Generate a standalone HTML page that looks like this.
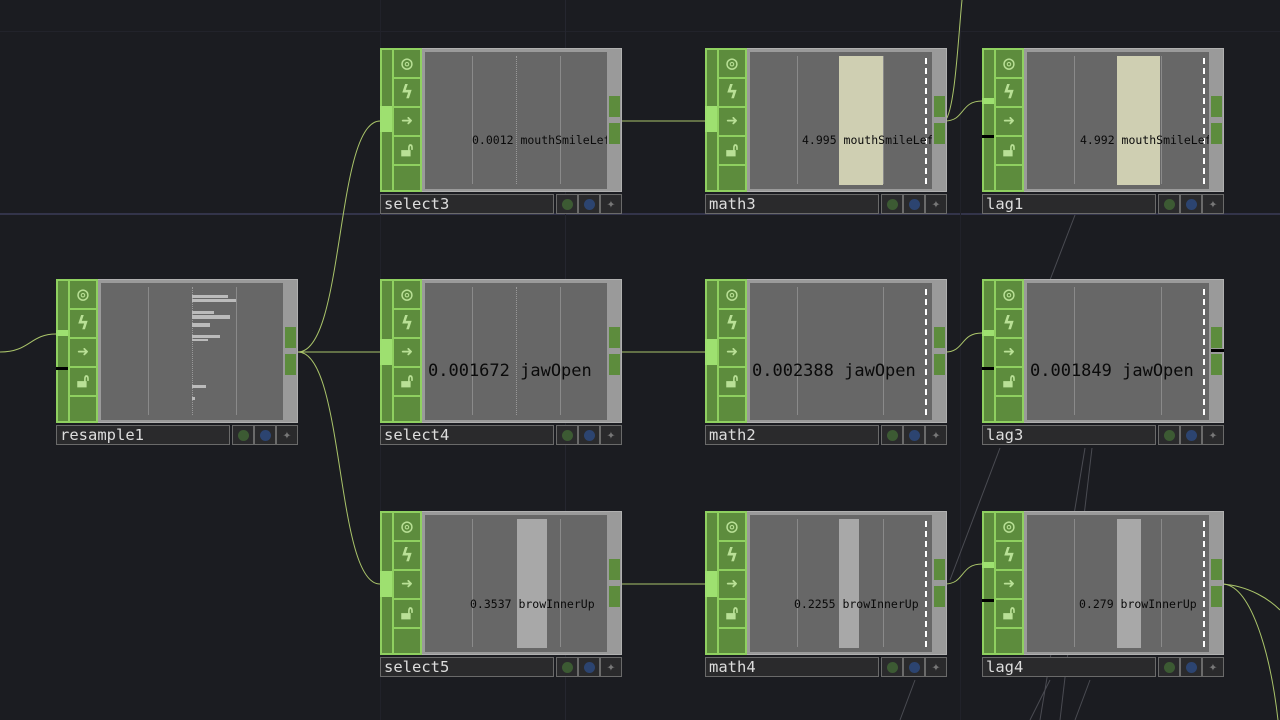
<!DOCTYPE html><html><head><meta charset="utf-8"><style>
*{margin:0;padding:0;box-sizing:border-box}
body{width:1280px;height:720px;background:#1b1c21;position:relative;overflow:hidden;font-family:"DejaVu Sans Mono","Liberation Mono",monospace}
.g{position:absolute;background:#2a2b36}
.n{position:absolute;width:242px;height:166px}
.b{position:absolute;left:0;top:0;width:242px;height:144px;background:#9a9a9a;border:1px solid #b0b0b0}
.s{position:absolute;left:0;top:0;width:42px;height:144px;background:#5d8c3d;border:2px solid #8fd060}
.s:before{content:"";position:absolute;left:10px;top:0;width:2px;height:140px;background:#8fd060}
.c{position:absolute;left:12px;width:26px;height:29px;border-bottom:2px solid #8fd060;color:#b9e096;font-size:19px;font-weight:bold;text-align:center;line-height:27px}
.in{position:absolute;left:0;width:12px;background:#9ee070}
.bk{position:absolute;left:0;width:12px;height:3px;background:#000}
.v{position:absolute;left:45px;top:4px;width:182px;height:137px;background:#676767;overflow:hidden}
.l{position:absolute;top:4px;width:1px;height:128px;background:#8a8a8a}
.d{position:absolute;top:4px;width:0;height:128px;border-left:1px dotted #999}
.w{position:absolute;top:6px;width:0;height:126px;border-left:2px dashed #fff}
.bar{position:absolute;top:4px;height:129px}
.o{position:absolute;left:229px;width:11px;height:21px;background:#5d8c3d}
.t{position:absolute;white-space:nowrap;color:#0a0a0a;font-size:11.5px}
.T{position:absolute;white-space:nowrap;color:#0a0a0a;font-size:17px}
.lb{position:absolute;left:0;top:146px;width:174px;height:20px;background:#2a2a2c;border:1px solid #6a6a6a;color:#ddd;font-size:15.5px;line-height:18px;padding-left:3px}
.ic{position:absolute;top:146px;width:22px;height:20px;background:#2a2a2c;border:1px solid #6a6a6a}
.ic i{position:absolute;left:5px;top:4px;width:11px;height:11px;border-radius:50%}
</style></head><body>
<div class="g" style="left:0;top:213px;width:1280px;height:2px;background:#33344a"></div>
<div class="g" style="left:0;top:31px;width:1280px;height:1px;background:#22232b"></div>
<div class="g" style="left:565px;top:0;width:1px;height:720px;background:#25262f"></div>
<div class="g" style="left:380px;top:0;width:1px;height:720px;background:#21222a"></div>
<div class="g" style="left:960px;top:0;width:1px;height:720px;background:#21222a"></div>
<svg style="position:absolute;left:0;top:0" width="1280" height="720" fill="none">
<g stroke="#aac46a" stroke-width="1">
<path d="M0,352 C30,352 30,334 56,334"/>
<path d="M298,352 C345,352 335,121 380,121"/>
<path d="M298,352 L380,352"/>
<path d="M298,352 C345,352 335,584 380,584"/>
<path d="M621,121 L705,121"/><path d="M621,352 L705,352"/><path d="M621,584 L705,584"/>
<path d="M945,121 C965,121 960,101 982,101"/>
<path d="M945,352 C965,352 960,333 982,333"/>
<path d="M945,584 C965,584 960,564 982,564"/>
<path d="M945,121 C955,110 958,40 962,0"/>
<path d="M1222,584 C1250,584 1270,650 1278,720"/>
<path d="M1222,584 C1250,586 1270,600 1280,610"/>
</g>
<g stroke="#4a4b52" stroke-width="1">
<path d="M1075,215 L1050,280"/><path d="M1085,448 L1040,720"/><path d="M1092,448 L1060,720"/>
<path d="M1000,448 L950,580"/><path d="M915,680 L900,720"/><path d="M1050,680 L1030,720"/><path d="M1090,680 L1075,720"/>
</g></svg>

<!-- resample1 -->
<div class="n" style="left:56px;top:279px"><div class="b"></div><div class="s"><div class="c" style="top:0">◎</div><div class="c" style="top:29px">ϟ</div><div class="c" style="top:58px">➜</div><div class="c" style="top:87px">🔓︎</div></div>
<div class="in" style="top:51px;height:6px"></div><div class="bk" style="top:88px"></div>
<div class="v" style="left:45px"><div class="l" style="left:47px"></div><div class="d" style="left:91px"></div><div class="l" style="left:135px"></div>
<div class="bar" style="left:91px;top:12px;width:36px;height:3px;background:#bbb"></div><div class="bar" style="left:91px;top:16px;width:44px;height:3px;background:#bbb"></div>
<div class="bar" style="left:91px;top:28px;width:22px;height:3px;background:#bbb"></div><div class="bar" style="left:91px;top:32px;width:38px;height:4px;background:#bbb"></div>
<div class="bar" style="left:91px;top:40px;width:18px;height:4px;background:#bbb"></div><div class="bar" style="left:91px;top:52px;width:28px;height:3px;background:#bbb"></div><div class="bar" style="left:91px;top:56px;width:16px;height:2px;background:#bbb"></div>
<div class="bar" style="left:91px;top:102px;width:14px;height:3px;background:#bbb"></div><div class="bar" style="left:91px;top:114px;width:3px;height:3px;background:#bbb"></div></div>
<div class="o" style="top:48px"></div><div class="o" style="top:75px"></div>
<div class="lb">resample1</div><div class="ic" style="left:176px"><i style="background:#3c5a33"></i></div><div class="ic" style="left:198px"><i style="background:#2c4470"></i></div><div class="ic" style="left:220px;color:#777;font-size:14px;text-align:center;line-height:18px">✦</div></div>

<!-- row 1 -->
<div class="n" style="left:380px;top:48px"><div class="b"></div><div class="s"><div class="c" style="top:0">◎</div><div class="c" style="top:29px">ϟ</div><div class="c" style="top:58px">➜</div><div class="c" style="top:87px">🔓︎</div></div>
<div class="in" style="top:58px;height:26px"></div>
<div class="v"><div class="l" style="left:47px"></div><div class="d" style="left:91px"></div><div class="l" style="left:135px"></div><div class="t" style="left:47px;top:81px">0.0012 mouthSmileLeft</div></div>
<div class="o" style="top:48px"></div><div class="o" style="top:75px"></div>
<div class="lb">select3</div><div class="ic" style="left:176px"><i style="background:#3c5a33"></i></div><div class="ic" style="left:198px"><i style="background:#2c4470"></i></div><div class="ic" style="left:220px;color:#777;font-size:14px;text-align:center;line-height:18px">✦</div></div>

<div class="n" style="left:705px;top:48px"><div class="b"></div><div class="s"><div class="c" style="top:0">◎</div><div class="c" style="top:29px">ϟ</div><div class="c" style="top:58px">➜</div><div class="c" style="top:87px">🔓︎</div></div>
<div class="in" style="top:58px;height:26px"></div>
<div class="v"><div class="l" style="left:47px"></div><div class="bar" style="left:89px;width:44px;background:#cfcfb2"></div><div class="l" style="left:133px"></div><div class="w" style="left:175px"></div><div class="t" style="left:52px;top:81px">4.995 mouthSmileLeft</div></div>
<div class="o" style="top:48px"></div><div class="o" style="top:75px"></div>
<div class="lb">math3</div><div class="ic" style="left:176px"><i style="background:#3c5a33"></i></div><div class="ic" style="left:198px"><i style="background:#2c4470"></i></div><div class="ic" style="left:220px;color:#777;font-size:14px;text-align:center;line-height:18px">✦</div></div>

<div class="n" style="left:982px;top:48px"><div class="b"></div><div class="s"><div class="c" style="top:0">◎</div><div class="c" style="top:29px">ϟ</div><div class="c" style="top:58px">➜</div><div class="c" style="top:87px">🔓︎</div></div>
<div class="in" style="top:50px;height:6px"></div><div class="bk" style="top:87px"></div>
<div class="v"><div class="l" style="left:47px"></div><div class="bar" style="left:90px;width:43px;background:#cfcfb2"></div><div class="l" style="left:134px"></div><div class="w" style="left:176px"></div><div class="t" style="left:53px;top:81px">4.992 mouthSmileLeft</div></div>
<div class="o" style="top:48px"></div><div class="o" style="top:75px"></div>
<div class="lb">lag1</div><div class="ic" style="left:176px"><i style="background:#3c5a33"></i></div><div class="ic" style="left:198px"><i style="background:#2c4470"></i></div><div class="ic" style="left:220px;color:#777;font-size:14px;text-align:center;line-height:18px">✦</div></div>

<!-- row 2 -->
<div class="n" style="left:380px;top:279px"><div class="b"></div><div class="s"><div class="c" style="top:0">◎</div><div class="c" style="top:29px">ϟ</div><div class="c" style="top:58px">➜</div><div class="c" style="top:87px">🔓︎</div></div>
<div class="in" style="top:60px;height:26px"></div>
<div class="v"><div class="l" style="left:47px"></div><div class="d" style="left:91px"></div><div class="l" style="left:135px"></div><div class="T" style="left:3px;top:78px">0.001672 jawOpen</div></div>
<div class="o" style="top:48px"></div><div class="o" style="top:75px"></div>
<div class="lb">select4</div><div class="ic" style="left:176px"><i style="background:#3c5a33"></i></div><div class="ic" style="left:198px"><i style="background:#2c4470"></i></div><div class="ic" style="left:220px;color:#777;font-size:14px;text-align:center;line-height:18px">✦</div></div>

<div class="n" style="left:705px;top:279px"><div class="b"></div><div class="s"><div class="c" style="top:0">◎</div><div class="c" style="top:29px">ϟ</div><div class="c" style="top:58px">➜</div><div class="c" style="top:87px">🔓︎</div></div>
<div class="in" style="top:60px;height:26px"></div>
<div class="v"><div class="l" style="left:47px"></div><div class="l" style="left:133px"></div><div class="w" style="left:175px"></div><div class="T" style="left:2px;top:78px">0.002388 jawOpen</div></div>
<div class="o" style="top:48px"></div><div class="o" style="top:75px"></div>
<div class="lb">math2</div><div class="ic" style="left:176px"><i style="background:#3c5a33"></i></div><div class="ic" style="left:198px"><i style="background:#2c4470"></i></div><div class="ic" style="left:220px;color:#777;font-size:14px;text-align:center;line-height:18px">✦</div></div>

<div class="n" style="left:982px;top:279px"><div class="b"></div><div class="s"><div class="c" style="top:0">◎</div><div class="c" style="top:29px">ϟ</div><div class="c" style="top:58px">➜</div><div class="c" style="top:87px">🔓︎</div></div>
<div class="in" style="top:51px;height:6px"></div><div class="bk" style="top:88px"></div>
<div class="v"><div class="l" style="left:47px"></div><div class="l" style="left:134px"></div><div class="w" style="left:176px"></div><div class="T" style="left:3px;top:78px">0.001849 jawOpen</div></div>
<div class="o" style="top:48px"></div><div class="o" style="top:75px"></div><div style="position:absolute;left:229px;top:70px;width:13px;height:3px;background:#000"></div>
<div class="lb">lag3</div><div class="ic" style="left:176px"><i style="background:#3c5a33"></i></div><div class="ic" style="left:198px"><i style="background:#2c4470"></i></div><div class="ic" style="left:220px;color:#777;font-size:14px;text-align:center;line-height:18px">✦</div></div>

<!-- row 3 -->
<div class="n" style="left:380px;top:511px"><div class="b"></div><div class="s"><div class="c" style="top:0">◎</div><div class="c" style="top:29px">ϟ</div><div class="c" style="top:58px">➜</div><div class="c" style="top:87px">🔓︎</div></div>
<div class="in" style="top:60px;height:26px"></div>
<div class="v"><div class="l" style="left:47px"></div><div class="bar" style="left:92px;width:30px;background:#a8a8a8"></div><div class="l" style="left:135px"></div><div class="t" style="left:45px;top:82px">0.3537 browInnerUp</div></div>
<div class="o" style="top:48px"></div><div class="o" style="top:75px"></div>
<div class="lb">select5</div><div class="ic" style="left:176px"><i style="background:#3c5a33"></i></div><div class="ic" style="left:198px"><i style="background:#2c4470"></i></div><div class="ic" style="left:220px;color:#777;font-size:14px;text-align:center;line-height:18px">✦</div></div>

<div class="n" style="left:705px;top:511px"><div class="b"></div><div class="s"><div class="c" style="top:0">◎</div><div class="c" style="top:29px">ϟ</div><div class="c" style="top:58px">➜</div><div class="c" style="top:87px">🔓︎</div></div>
<div class="in" style="top:60px;height:26px"></div>
<div class="v"><div class="l" style="left:47px"></div><div class="bar" style="left:89px;width:20px;background:#a8a8a8"></div><div class="l" style="left:133px"></div><div class="w" style="left:175px"></div><div class="t" style="left:44px;top:82px">0.2255 browInnerUp</div></div>
<div class="o" style="top:48px"></div><div class="o" style="top:75px"></div>
<div class="lb">math4</div><div class="ic" style="left:176px"><i style="background:#3c5a33"></i></div><div class="ic" style="left:198px"><i style="background:#2c4470"></i></div><div class="ic" style="left:220px;color:#777;font-size:14px;text-align:center;line-height:18px">✦</div></div>

<div class="n" style="left:982px;top:511px"><div class="b"></div><div class="s"><div class="c" style="top:0">◎</div><div class="c" style="top:29px">ϟ</div><div class="c" style="top:58px">➜</div><div class="c" style="top:87px">🔓︎</div></div>
<div class="in" style="top:51px;height:6px"></div><div class="bk" style="top:88px"></div>
<div class="v"><div class="l" style="left:47px"></div><div class="bar" style="left:90px;width:24px;background:#a8a8a8"></div><div class="l" style="left:134px"></div><div class="w" style="left:176px"></div><div class="t" style="left:52px;top:82px">0.279 browInnerUp</div></div>
<div class="o" style="top:48px"></div><div class="o" style="top:75px"></div>
<div class="lb">lag4</div><div class="ic" style="left:176px"><i style="background:#3c5a33"></i></div><div class="ic" style="left:198px"><i style="background:#2c4470"></i></div><div class="ic" style="left:220px;color:#777;font-size:14px;text-align:center;line-height:18px">✦</div></div>
</body></html>
